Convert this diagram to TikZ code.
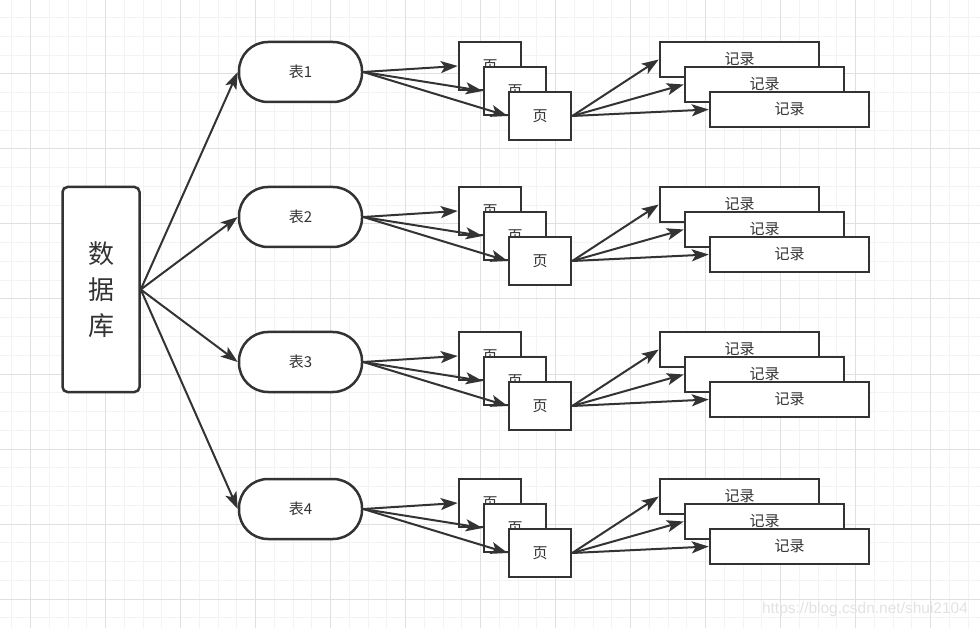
\documentclass[tikz,border=0pt]{standalone}
\usepackage{fontspec}
\newfontfamily\cjk{Noto Sans CJK SC}
\newfontfamily\wmfont{Liberation Sans}
\usetikzlibrary{arrows.meta}
\definecolor{ink}{HTML}{333333}
\definecolor{gridminor}{HTML}{F3F3F3}
\definecolor{gridmajor}{HTML}{E0E0E0}
\begin{document}
\begin{tikzpicture}[x=1pt,y=-1pt,
  shapebox/.style={draw=ink, line width=2.5pt, fill=white, text=ink, inner sep=0pt},
  dbbox/.style={shapebox, rounded corners=5pt, minimum width=77pt, minimum height=205pt, align=center, font=\cjk\fontsize{26}{36}\selectfont},
  tablebox/.style={shapebox, rounded corners=29pt, minimum width=123pt, minimum height=60pt, font=\cjk\fontsize{15}{18}\selectfont},
  pagebox/.style={shapebox, minimum width=62pt, minimum height=48pt, font=\cjk\fontsize{15}{18}\selectfont},
  recbox/.style={shapebox, minimum width=159pt, minimum height=35pt, font=\cjk\fontsize{15}{18}\selectfont},
  conn/.style={draw=ink, line width=2pt, -{Stealth[length=17pt,width=12pt,inset=4pt]}}
]
\path[use as bounding box, fill=white] (0,0) rectangle (980,628);
% grid
\foreach \i in {0,...,53} {
  \draw[gridminor, line width=1pt] ({-6.8+\i*18.75},0) -- ({-6.8+\i*18.75},628);
}
\foreach \i in {0,...,34} {
  \draw[gridminor, line width=1pt] (0,{-1+\i*18.75}) -- (980,{-1+\i*18.75});
}
\foreach \i in {0,...,13} {
  \draw[gridmajor, line width=1pt] ({30.7+\i*75},0) -- ({30.7+\i*75},628);
}
\foreach \i in {0,...,9} {
  \draw[gridmajor, line width=1pt] (0,{-1+\i*75}) -- (980,{-1+\i*75});
}
% database
\node[dbbox] (db) at (101,289.5) {数\\据\\库};
% groups
\foreach \g/\t/\y in {1/表1/41, 2/表2/186, 3/表3/331, 4/表4/478} {
  \node[tablebox] (t\g) at (300.5,{\y+31}) {\t};
  \foreach \k in {0,1,2} {
    \node[pagebox] (p\g-\k) at ({490+25*\k},{\y+25+25*\k}) {页};
  }
  \foreach \k in {0,1,2} {
    \node[recbox] (r\g-\k) at ({739.5+25*\k},{\y+18.5+25*\k}) {记录};
  }
}
% connectors
\foreach \g in {1,2,3,4} {
  \draw[conn] (db.east) -- (t\g.west);
  \foreach \k in {0,1,2} {
    \draw[conn] (t\g.east) -- (p\g-\k.west);
    \draw[conn] (p\g-2.east) -- (r\g-\k.west);
  }
}
% watermark
\node[text=gray!22, font=\wmfont\fontsize{15.5}{17}\selectfont, inner sep=0pt] (wm) at (865,609) {https://blog.csdn.net/shui2104};
\end{tikzpicture}
\end{document}
